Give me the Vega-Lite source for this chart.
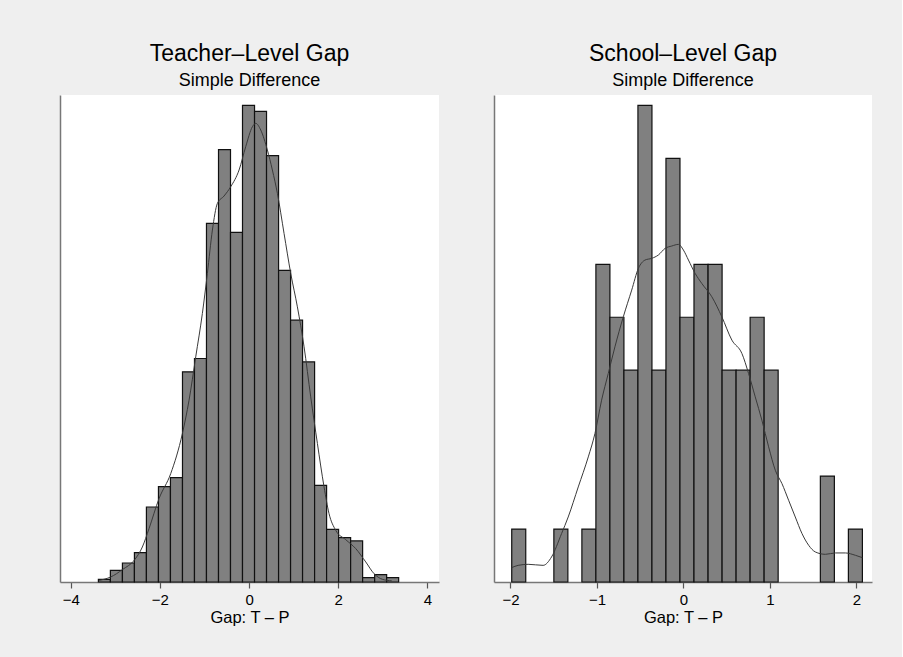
{
  "$schema": "https://vega.github.io/schema/vega-lite/v6.json",
  "background": "#efefef",
  "padding": {"left": 60, "top": 43, "right": 30, "bottom": 32},
  "spacing": 55,
  "datasets": {
    "leftBars": [
      {"x0": -3.379, "x1": -3.110, "d": 0.0023},
      {"x0": -3.110, "x1": -2.840, "d": 0.0100},
      {"x0": -2.840, "x1": -2.571, "d": 0.0163},
      {"x0": -2.571, "x1": -2.302, "d": 0.0252},
      {"x0": -2.302, "x1": -2.032, "d": 0.0643},
      {"x0": -2.032, "x1": -1.763, "d": 0.0818},
      {"x0": -1.763, "x1": -1.493, "d": 0.0895},
      {"x0": -1.493, "x1": -1.224, "d": 0.1802},
      {"x0": -1.224, "x1": -0.955, "d": 0.1916},
      {"x0": -0.955, "x1": -0.685, "d": 0.3074},
      {"x0": -0.685, "x1": -0.416, "d": 0.3706},
      {"x0": -0.416, "x1": -0.147, "d": 0.2997},
      {"x0": -0.147, "x1": 0.123, "d": 0.4086},
      {"x0": 0.123, "x1": 0.392, "d": 0.4035},
      {"x0": 0.392, "x1": 0.662, "d": 0.3655},
      {"x0": 0.662, "x1": 0.931, "d": 0.2671},
      {"x0": 0.931, "x1": 1.200, "d": 0.2245},
      {"x0": 1.200, "x1": 1.470, "d": 0.1887},
      {"x0": 1.470, "x1": 1.739, "d": 0.0829},
      {"x0": 1.739, "x1": 2.008, "d": 0.0452},
      {"x0": 2.008, "x1": 2.278, "d": 0.0380},
      {"x0": 2.278, "x1": 2.547, "d": 0.0352},
      {"x0": 2.547, "x1": 2.817, "d": 0.0037},
      {"x0": 2.817, "x1": 3.086, "d": 0.0063},
      {"x0": 3.086, "x1": 3.355, "d": 0.0037}
    ],
    "leftKde": [
      {"x": -3.364, "d": 0.0014}, {"x": -3.103, "d": 0.0043}, {"x": -2.841, "d": 0.0106},
      {"x": -2.564, "d": 0.0192}, {"x": -2.393, "d": 0.0300}, {"x": -2.243, "d": 0.0458},
      {"x": -2.019, "d": 0.0715}, {"x": -1.757, "d": 0.0929}, {"x": -1.495, "d": 0.1273},
      {"x": -1.346, "d": 0.1558}, {"x": -1.196, "d": 0.1930}, {"x": -1.047, "d": 0.2302},
      {"x": -0.935, "d": 0.2645}, {"x": -0.822, "d": 0.3017}, {"x": -0.710, "d": 0.3246},
      {"x": -0.561, "d": 0.3309}, {"x": -0.411, "d": 0.3389}, {"x": -0.224, "d": 0.3532},
      {"x": -0.075, "d": 0.3732}, {"x": 0.075, "d": 0.3903}, {"x": 0.150, "d": 0.3932},
      {"x": 0.262, "d": 0.3875}, {"x": 0.411, "d": 0.3703}, {"x": 0.523, "d": 0.3532},
      {"x": 0.636, "d": 0.3331}, {"x": 0.785, "d": 0.2988}, {"x": 0.935, "d": 0.2645},
      {"x": 1.084, "d": 0.2359}, {"x": 1.234, "d": 0.2016}, {"x": 1.383, "d": 0.1587},
      {"x": 1.533, "d": 0.1187}, {"x": 1.682, "d": 0.0815}, {"x": 1.794, "d": 0.0586},
      {"x": 1.944, "d": 0.0443}, {"x": 2.168, "d": 0.0363}, {"x": 2.393, "d": 0.0286},
      {"x": 2.617, "d": 0.0172}, {"x": 2.804, "d": 0.0071}, {"x": 2.991, "d": 0.0023},
      {"x": 3.200, "d": 0.0010}
    ],
    "rightBars": [
      {"x0": -1.985, "x1": -1.823, "d": 0.0811},
      {"x0": -1.498, "x1": -1.336, "d": 0.0811},
      {"x0": -1.174, "x1": -1.012, "d": 0.0811},
      {"x0": -1.012, "x1": -0.850, "d": 0.4866},
      {"x0": -0.850, "x1": -0.688, "d": 0.4055},
      {"x0": -0.688, "x1": -0.526, "d": 0.3244},
      {"x0": -0.526, "x1": -0.364, "d": 0.7299},
      {"x0": -0.364, "x1": -0.202, "d": 0.3244},
      {"x0": -0.202, "x1": -0.040, "d": 0.6488},
      {"x0": -0.040, "x1": 0.122, "d": 0.4055},
      {"x0": 0.122, "x1": 0.285, "d": 0.4866},
      {"x0": 0.285, "x1": 0.447, "d": 0.4866},
      {"x0": 0.447, "x1": 0.609, "d": 0.3244},
      {"x0": 0.609, "x1": 0.771, "d": 0.3244},
      {"x0": 0.771, "x1": 0.933, "d": 0.4055},
      {"x0": 0.933, "x1": 1.095, "d": 0.3244},
      {"x0": 1.583, "x1": 1.745, "d": 0.1622},
      {"x0": 1.907, "x1": 2.069, "d": 0.0811}
    ],
    "rightKde": [
      {"x": -1.985, "d": 0.0220}, {"x": -1.911, "d": 0.0255}, {"x": -1.795, "d": 0.0271},
      {"x": -1.622, "d": 0.0255}, {"x": -1.525, "d": 0.0383}, {"x": -1.409, "d": 0.0741},
      {"x": -1.332, "d": 0.0996}, {"x": -1.216, "d": 0.1456}, {"x": -1.100, "d": 0.1916},
      {"x": -1.023, "d": 0.2274}, {"x": -0.946, "d": 0.2785}, {"x": -0.869, "d": 0.3194},
      {"x": -0.792, "d": 0.3602}, {"x": -0.695, "d": 0.4062}, {"x": -0.598, "d": 0.4471},
      {"x": -0.521, "d": 0.4803}, {"x": -0.444, "d": 0.4931}, {"x": -0.367, "d": 0.4957},
      {"x": -0.290, "d": 0.5008}, {"x": -0.212, "d": 0.5110}, {"x": -0.135, "d": 0.5146},
      {"x": -0.058, "d": 0.5171}, {"x": 0.000, "d": 0.5084}, {"x": 0.058, "d": 0.4931},
      {"x": 0.135, "d": 0.4727}, {"x": 0.212, "d": 0.4573}, {"x": 0.328, "d": 0.4369},
      {"x": 0.444, "d": 0.4062}, {"x": 0.560, "d": 0.3705}, {"x": 0.676, "d": 0.3500},
      {"x": 0.753, "d": 0.3194}, {"x": 0.830, "d": 0.2836}, {"x": 0.907, "d": 0.2478},
      {"x": 0.985, "d": 0.2070}, {"x": 1.062, "d": 0.1712}, {"x": 1.139, "d": 0.1507},
      {"x": 1.216, "d": 0.1252}, {"x": 1.293, "d": 0.0996}, {"x": 1.371, "d": 0.0741},
      {"x": 1.448, "d": 0.0562}, {"x": 1.525, "d": 0.0460}, {"x": 1.641, "d": 0.0424},
      {"x": 1.757, "d": 0.0445}, {"x": 1.873, "d": 0.0445}, {"x": 1.988, "d": 0.0409},
      {"x": 2.069, "d": 0.0373}
    ]
  },
  "hconcat": [
    {
      "width": 379,
      "height": 487,
      "title": {"text": "Teacher–Level Gap", "subtitle": "Simple Difference"},
      "layer": [
        {
          "data": {"name": "leftBars"},
          "mark": {"type": "rect", "fill": "#808080", "stroke": "#111111", "strokeWidth": 1.2},
          "encoding": {
            "x": {"field": "x0", "type": "quantitative", "scale": {"domain": [-4.24, 4.26], "nice": false, "zero": false},
                  "axis": {"title": "Gap: T – P", "values": [-4, -2, 0, 2, 4], "format": "d"}},
            "x2": {"field": "x1"},
            "y": {"field": "d", "type": "quantitative", "scale": {"domain": [0, 0.4175], "nice": false},
                  "axis": {"title": null, "labels": false, "ticks": false, "grid": false}}
          }
        },
        {
          "data": {"name": "leftKde"},
          "mark": {"type": "line", "color": "#3a3a3a", "strokeWidth": 1, "interpolate": "monotone"},
          "encoding": {
            "x": {"field": "x", "type": "quantitative"},
            "y": {"field": "d", "type": "quantitative"}
          }
        }
      ]
    },
    {
      "width": 378,
      "height": 487,
      "title": {"text": "School–Level Gap", "subtitle": "Simple Difference"},
      "layer": [
        {
          "data": {"name": "rightBars"},
          "mark": {"type": "rect", "fill": "#808080", "stroke": "#111111", "strokeWidth": 1.2},
          "encoding": {
            "x": {"field": "x0", "type": "quantitative", "scale": {"domain": [-2.19, 2.18], "nice": false, "zero": false},
                  "axis": {"title": "Gap: T – P", "values": [-2, -1, 0, 1, 2], "format": "d"}},
            "x2": {"field": "x1"},
            "y": {"field": "d", "type": "quantitative", "scale": {"domain": [0, 0.7459], "nice": false},
                  "axis": {"title": null, "labels": false, "ticks": false, "grid": false}}
          }
        },
        {
          "data": {"name": "rightKde"},
          "mark": {"type": "line", "color": "#3a3a3a", "strokeWidth": 1, "interpolate": "monotone"},
          "encoding": {
            "x": {"field": "x", "type": "quantitative"},
            "y": {"field": "d", "type": "quantitative"}
          }
        }
      ]
    }
  ],
  "config": {
    "font": "Liberation Sans",
    "view": {"fill": "white", "stroke": null},
    "title": {
      "font": "Liberation Sans",
      "fontSize": 23,
      "fontWeight": "normal",
      "color": "black",
      "subtitleFont": "Liberation Sans",
      "subtitleFontSize": 18,
      "subtitleColor": "black",
      "anchor": "middle",
      "offset": 5,
      "subtitlePadding": 6
    },
    "axis": {
      "grid": false,
      "domainColor": "#777777",
      "domainWidth": 1.5,
      "tickColor": "#555555",
      "tickSize": 6,
      "tickWidth": 1.2,
      "labelFont": "Liberation Sans",
      "labelFontSize": 15,
      "labelColor": "black",
      "labelPadding": 4,
      "titleFont": "Liberation Sans",
      "titleFontSize": 16.5,
      "titleFontWeight": "normal",
      "titleColor": "black",
      "titlePadding": 2
    }
  }
}
